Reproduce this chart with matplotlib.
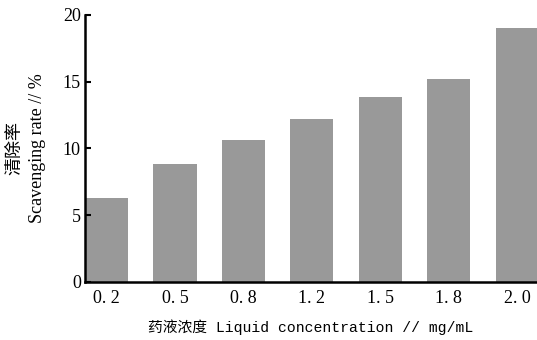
import matplotlib
matplotlib.use('Agg')
import matplotlib.pyplot as plt
import numpy as np

# Данные
concentrations = ['0. 2', '0. 5', '0. 8', '1. 2', '1. 5', '1. 8', '2. 0']
scavenging = [6.3, 8.85, 10.6, 12.2, 13.87, 15.2, 19.0]
y_ticks = [0, 5, 10, 15, 20]

SERIF = ['Liberation Serif', 'Noto Sans CJK SC', 'DejaVu Serif']
MONO = ['Liberation Mono', 'Noto Sans CJK SC', 'DejaVu Sans Mono']

fig = plt.figure(figsize=(5.37, 3.4), dpi=100)
fig.patch.set_facecolor('white')
ax = fig.add_axes([0.1583, 0.1706, 0.8417, 0.7853])

x = np.arange(len(concentrations))
ax.bar(x, scavenging, width=0.63, color='#999999', edgecolor='none')

ax.set_xlim(-0.315, len(concentrations) - 1 + 0.29)
ax.set_ylim(0, 20)

ax.set_yticks(y_ticks)
ax.set_yticklabels([str(v) for v in y_ticks], family=SERIF, fontsize=13)
ax.set_xticks(x)
ax.set_xticklabels(concentrations, family=SERIF, fontsize=13)

ax.tick_params(axis='y', direction='in', length=4, width=1.5, pad=3)
ax.tick_params(axis='x', length=0, pad=6)

ax.spines['top'].set_visible(False)
ax.spines['right'].set_visible(False)
ax.spines['left'].set_linewidth(1.8)
ax.spines['bottom'].set_linewidth(1.8)

ax.set_ylabel('清除率\nScavenging rate // %', family=SERIF, fontsize=13,
              linespacing=1.45, labelpad=12)
ax.set_xlabel('药液浓度 Liquid concentration // mg/mL', family=MONO,
              fontsize=10.6, labelpad=9)

plt.savefig('out.png', dpi=100, facecolor='white')
plt.close(fig)
